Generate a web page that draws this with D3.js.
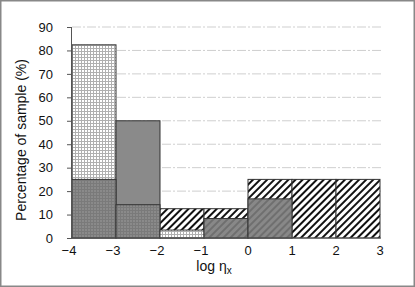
<!DOCTYPE html>
<html><head><meta charset="utf-8">
<script src="https://cdn.jsdelivr.net/npm/d3@7"></script>
<style>body{margin:0;background:#fff}svg{display:block}</style>
</head><body><svg id="c" width="415" height="287"></svg>
<script>
const binEdges = [-4, -3, -2, -1, 0, 1, 2, 3];
const backValues = [82.4, 50, 12.5, 12.5, 25, 25, 25];
const frontValues = [25, 14.2, 3.4, 8.3, 16.7, 0, 0];
const backFill = ["lightGrid", "solidGray", "hatch", "hatch", "hatch", "hatch", "hatch"];
const frontFill = ["darkGrid", "darkGrid", "lightGrid", "darkHatch", "darkHatch", "darkHatch", "darkHatch"];
const yTicks = [0, 10, 20, 30, 40, 50, 60, 70, 80, 90];
const xTicks = [-4, -3, -2, -1, 0, 1, 2, 3];

const svg = d3.select("#c");
const W = 415, H = 287;
const m = {l: 72, r: 35, t: 27, b: 49};
const x = d3.scaleLinear().domain([-4, 3]).range([m.l, W - m.r]);
const y = d3.scaleLinear().domain([0, 90]).range([H - m.b, m.t]);

const defs = svg.append("defs");
function gridPat(id, bg, line, step) {
  const p = defs.append("pattern").attr("id", id).attr("patternUnits", "userSpaceOnUse")
    .attr("width", step).attr("height", step);
  p.append("rect").attr("width", step).attr("height", step).attr("fill", bg);
  p.append("path").attr("d", `M0,0.5H${step}M0.5,0V${step}`).attr("stroke", line).attr("stroke-width", 1).attr("fill", "none");
}
gridPat("lightGrid", "#ffffff", "#b0b0b0", 3);
gridPat("darkGrid", "#8a8a8a", "#7a7a7a", 3);
function hatchPat(id, bg, line, w) {
  const p = defs.append("pattern").attr("id", id).attr("patternUnits", "userSpaceOnUse")
    .attr("width", 5).attr("height", 5).attr("patternTransform", "rotate(45)");
  p.append("rect").attr("width", 5).attr("height", 5).attr("fill", bg);
  p.append("rect").attr("x", 0).attr("width", w).attr("height", 5).attr("fill", line);
}
hatchPat("hatch", "#ffffff", "#111111", 2);
hatchPat("darkHatch", "#888888", "#6f6f6f", 2);
const fillFor = k => k === "solidGray" ? "#8a8a8a" : `url(#${k})`;

// border
svg.append("rect").attr("x", 0.75).attr("y", 0.75).attr("width", W - 1.5).attr("height", H - 1.5)
  .attr("fill", "none").attr("stroke", "#888").attr("stroke-width", 1.5);

// gridlines
svg.append("g").selectAll("line").data(yTicks.filter(d => d > 0)).join("line")
  .attr("x1", m.l).attr("x2", W - m.r + 1).attr("y1", d => y(d)).attr("y2", d => y(d))
  .attr("stroke", "#cfcfcf").attr("stroke-width", 1).attr("stroke-dasharray", "9,2,2,2");

const bins = binEdges.slice(0, -1).map((e, i) => ({x0: e, x1: binEdges[i + 1], back: backValues[i], front: frontValues[i], bf: backFill[i], ff: frontFill[i]}));

svg.append("g").selectAll("rect").data(bins).join("rect")
  .attr("x", d => x(d.x0)).attr("width", d => x(d.x1) - x(d.x0))
  .attr("y", d => y(d.back)).attr("height", d => y(0) - y(d.back))
  .attr("fill", d => fillFor(d.bf)).attr("stroke", "#333").attr("stroke-width", 1);

svg.append("g").selectAll("rect").data(bins.filter(d => d.front > 0)).join("rect")
  .attr("x", d => x(d.x0)).attr("width", d => x(d.x1) - x(d.x0))
  .attr("y", d => y(d.front)).attr("height", d => y(0) - y(d.front))
  .attr("fill", d => fillFor(d.ff)).attr("stroke", "#333").attr("stroke-width", 1);

// y axis
const yAxis = d3.axisLeft(y).tickValues(yTicks).tickSize(5).tickPadding(14).tickFormat(d3.format("d"));
const gy = svg.append("g").attr("transform", `translate(${m.l},0)`).call(yAxis);
gy.select(".domain").attr("d", `M-0.5,${y(90)}V${y(0)}`).attr("stroke", "#555");
gy.selectAll(".tick line").attr("stroke", "#555");
gy.selectAll("text").attr("font-family", "Liberation Sans, Arial, sans-serif").attr("font-size", 13).attr("fill", "#111");

// x axis
svg.append("line").attr("x1", m.l).attr("x2", W - m.r + 1).attr("y1", y(0)).attr("y2", y(0)).attr("stroke", "#555");
const fmt = d => d < 0 ? "\u2212" + Math.abs(d) : String(d);
svg.append("g").selectAll("text").data(xTicks).join("text")
  .attr("x", d => x(d) - (d < 0 ? 3 : 0)).attr("y", y(0) + 17).attr("text-anchor", "middle")
  .attr("font-family", "Liberation Sans, Arial, sans-serif").attr("font-size", 13).attr("fill", "#111")
  .text(fmt);

// titles
const xt = svg.append("text").attr("x", 214).attr("y", 271).attr("text-anchor", "middle")
  .attr("font-family", "Liberation Sans, Arial, sans-serif").attr("font-size", 14).attr("fill", "#111");
xt.append("tspan").text("log \u03b7");
xt.append("tspan").attr("font-size", 10).attr("dy", 3).text("x");

svg.append("text").attr("transform", `translate(26,140) rotate(-90)`).attr("text-anchor", "middle")
  .attr("font-family", "Liberation Sans, Arial, sans-serif").attr("font-size", 14).attr("fill", "#111")
  .text("Percentage of sample (%)");
</script></body></html>
